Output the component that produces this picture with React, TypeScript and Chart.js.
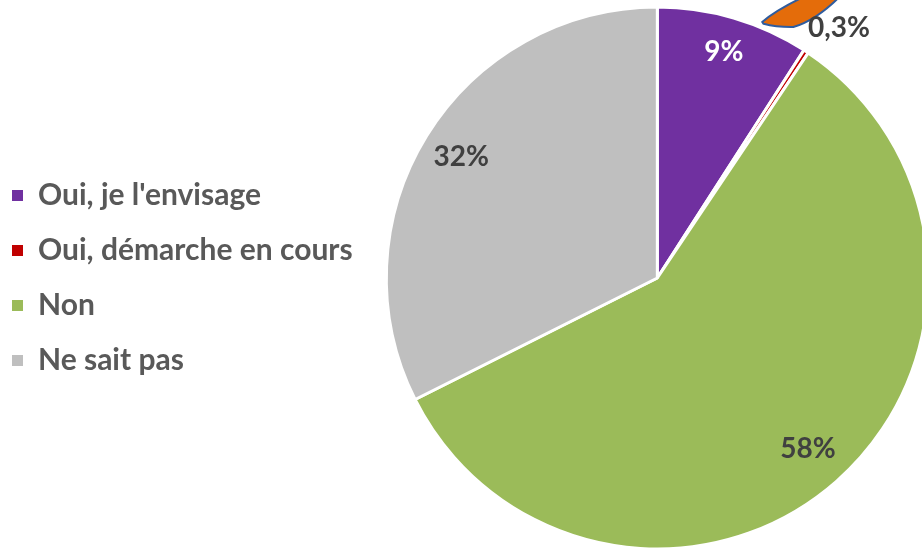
import React, { useEffect, useRef } from "react";
import { Chart, registerables } from "chart.js";

Chart.register(...registerables);

const categories = ["Oui, je l'envisage", "Oui, démarche en cours", "Non", "Ne sait pas"];
const values = [9.1, 0.3, 58.2, 32.4];
const valueLabels = ["9%", "0,3%", "58%", "32%"];
const sliceColors = ["#7030A0", "#C00000", "#9BBB59", "#BFBFBF"];

const FONT = "Lato, 'Open Sans', sans-serif";

// label placement style (fraction of radius, angle offset in degrees, colour)
const labelStyle = [
  { k: 0.87, da: 0, color: "#FFFFFF" },
  { k: 1.14, da: 2.7, color: "#404040" },
  { k: 0.84, da: 0, color: "#404040" },
  { k: 0.85, da: 0, color: "#404040" },
];

const labelPlugin = {
  id: "sliceLabels",
  afterDatasetsDraw(chart: any) {
    const meta = chart.getDatasetMeta(0);
    const ctx = chart.ctx as CanvasRenderingContext2D;
    const arcs = meta.data;
    if (!arcs.length) return;
    const a0 = arcs[0] as any;
    const cx = a0.x;
    const cy = a0.y;
    const r = a0.outerRadius;

    // decorative callout arrow near the tiny slice
    const P = (fx: number, fy: number) => [cx + fx * r, cy + fy * r];
    ctx.save();
    ctx.beginPath();
    let p = P(0.387, -0.945);
    ctx.moveTo(p[0], p[1]);
    let c = P(0.44, -0.99);
    p = P(0.545, -1.04);
    ctx.quadraticCurveTo(c[0], c[1], p[0], p[1]);
    p = P(0.675, -1.04);
    ctx.lineTo(p[0], p[1]);
    c = P(0.585, -0.95);
    p = P(0.502, -0.926);
    ctx.quadraticCurveTo(c[0], c[1], p[0], p[1]);
    c = P(0.44, -0.925);
    p = P(0.392, -0.938);
    ctx.quadraticCurveTo(c[0], c[1], p[0], p[1]);
    ctx.closePath();
    ctx.fillStyle = "#E46C0A";
    ctx.fill();
    ctx.lineWidth = 2;
    ctx.strokeStyle = "#2F5C9E";
    ctx.lineJoin = "round";
    ctx.stroke();
    ctx.restore();

    ctx.save();
    ctx.font = `bold 28px ${FONT}`;
    ctx.textAlign = "center";
    ctx.textBaseline = "middle";
    arcs.forEach((arc: any, i: number) => {
      const st = labelStyle[i];
      const mid = (arc.startAngle + arc.endAngle) / 2 + (st.da * Math.PI) / 180;
      const x = arc.x + Math.cos(mid) * arc.outerRadius * st.k;
      const y = arc.y + Math.sin(mid) * arc.outerRadius * st.k;
      ctx.fillStyle = st.color;
      ctx.fillText(valueLabels[i], x, y);
    });
    ctx.restore();
  },
};

export default function App() {
  const ref = useRef<HTMLCanvasElement | null>(null);
  useEffect(() => {
    if (!ref.current) return;
    const baseGen = (Chart as any).overrides.pie.plugins.legend.labels.generateLabels;
    const chart = new Chart(ref.current, {
      type: "pie",
      data: {
        labels: categories,
        datasets: [
          {
            data: values,
            backgroundColor: sliceColors,
            borderColor: "#FFFFFF",
            borderWidth: 3,
            hoverOffset: 0,
            clip: false as any,
          },
        ],
      },
      options: {
        animation: false,
        responsive: false,
        radius: 271 as any,
        layout: { padding: 0 },
        plugins: {
          tooltip: { enabled: false },
          legend: {
            position: "left",
            align: "center",
            labels: {
              boxWidth: 11,
              boxHeight: 11,
              padding: 25,
              color: "#595959",
              font: { family: FONT, size: 30, weight: "bold" },
              generateLabels: (ch: any) =>
                baseGen(ch).map((it: any) => ({ ...it, lineWidth: 0, strokeStyle: it.fillStyle })),
            },
          },
        },
      } as any,
      plugins: [labelPlugin],
    });
    return () => chart.destroy();
  }, []);

  return (
    <div
      style={{
        position: "fixed",
        left: 0,
        top: 0,
        width: 922,
        height: 549,
        overflow: "hidden",
        background: "#FFFFFF",
      }}
    >
      <canvas
        ref={ref}
        width={965}
        height={560}
        style={{ position: "absolute", left: -13, top: -2, width: 965, height: 560 }}
      />
    </div>
  );
}
